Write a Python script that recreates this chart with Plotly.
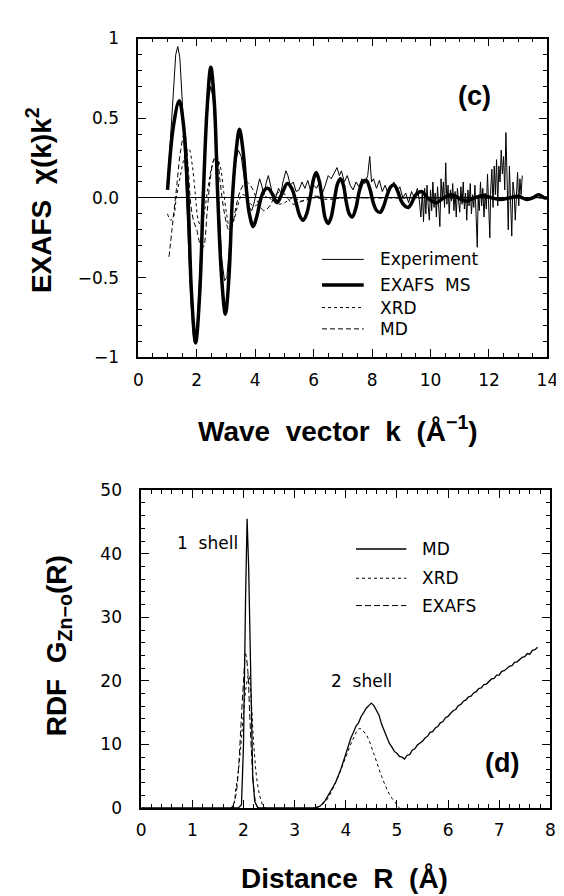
import plotly.graph_objects as go

# ---------------- Panel (c): EXAFS chi(k)k^2 ----------------
k_exp = [1.0, 1.1, 1.2, 1.28, 1.35, 1.42, 1.5, 1.6, 1.7, 1.8, 1.88, 1.95, 2.02, 2.1, 2.2, 2.3, 2.4, 2.48,
         2.56, 2.65, 2.75, 2.85, 2.95, 3.03, 3.12, 3.22, 3.32, 3.42, 3.52, 3.62, 3.72, 3.8, 3.88, 3.95,
         4.05, 4.15, 4.22, 4.3, 4.38, 4.45, 4.55, 4.62, 4.7, 4.8, 4.88, 4.95, 5.05, 5.12, 5.2, 5.3, 5.4,
         5.5, 5.6, 5.7, 5.8, 5.9, 6.0, 6.1, 6.2, 6.3, 6.4, 6.5, 6.6, 6.7, 6.8, 6.88, 6.95, 7.05, 7.15,
         7.25, 7.35, 7.45, 7.55, 7.65, 7.75, 7.85, 7.92, 7.98, 8.05, 8.15, 8.25, 8.35, 8.45, 8.55, 8.65,
         8.75, 8.85, 8.95, 9.05, 9.15, 9.25, 9.35, 9.45, 9.55, 9.62,
         9.67, 9.72, 9.76, 9.8, 9.84, 9.88, 9.92, 9.96, 10.0, 10.04, 10.08, 10.12, 10.16, 10.2, 10.24,
         10.28, 10.32, 10.36, 10.4, 10.44, 10.48, 10.52, 10.56, 10.6, 10.64, 10.68, 10.72, 10.76, 10.8,
         10.84, 10.88, 10.92, 10.96, 11.0, 11.04, 11.08, 11.12, 11.16, 11.2, 11.24, 11.28, 11.32, 11.36,
         11.4, 11.44, 11.48, 11.52, 11.56, 11.6, 11.63, 11.67, 11.71, 11.75, 11.79, 11.83, 11.87, 11.91,
         11.95, 11.99, 12.03, 12.06, 12.1, 12.14, 12.18, 12.22, 12.26, 12.3, 12.34, 12.38, 12.42, 12.46,
         12.5, 12.54, 12.58, 12.62, 12.66, 12.7, 12.74, 12.78, 12.82, 12.86, 12.9, 12.94, 12.98, 13.02,
         13.06, 13.1, 13.14]
chi_exp = [0.08, 0.4, 0.72, 0.9, 0.95, 0.88, 0.62, 0.2, -0.25, -0.65, -0.86, -0.9, -0.8, -0.5, -0.08,
           0.35, 0.62, 0.7, 0.62, 0.35, -0.05, -0.38, -0.52, -0.5, -0.3, 0.0, 0.22, 0.3, 0.26, 0.12, 0.0,
           -0.06, -0.08, -0.04, 0.05, 0.12, 0.08, 0.02, 0.1, 0.14, 0.06, -0.02, 0.0, 0.06, 0.03, 0.1, 0.17,
           0.14, 0.08, 0.1, 0.04, 0.05, 0.1, 0.06, 0.11, 0.04, 0.08, 0.06, 0.1, 0.03, 0.08, 0.14, 0.12,
           0.16, 0.19, 0.14, 0.17, 0.1, 0.14, 0.08, 0.05, 0.1, 0.07, 0.12, 0.09, 0.14, 0.26, 0.1, 0.12,
           0.06, 0.11, 0.04, 0.08, 0.02, 0.07, 0.1, 0.04, 0.07, 0.0, 0.03, -0.03, 0.04, 0.0, 0.06, -0.02,
           -0.12, 0.04, -0.15, 0.06, -0.1, 0.08, -0.05, -0.14, 0.05, -0.08, 0.1, -0.06, 0.03, -0.12, 0.07,
           -0.03, -0.18, 0.12, 0.0, 0.1, -0.06, 0.22, -0.04, 0.08, -0.1, 0.05, -0.02, 0.09, -0.08, 0.04,
           -0.12, 0.06, 0.0, -0.09, 0.07, -0.04, 0.1, -0.07, 0.03, -0.14, 0.05, -0.05, 0.09, -0.1, 0.02,
           -0.06, 0.08, -0.2, -0.31, 0.0, -0.08, 0.1, -0.05, 0.06, -0.12, 0.03, -0.07, 0.15, -0.1, -0.25,
           0.05, 0.18, -0.06, 0.2, 0.02, 0.24, -0.05, 0.2, 0.1, 0.3, 0.15, 0.26, 0.05, 0.41, 0.12, -0.2,
           0.2, -0.05, -0.24, 0.1, 0.04, -0.14, 0.08, 0.16, -0.05, 0.12, 0.02, 0.14]

k_ms = [1.0, 1.2, 1.4, 1.55, 1.7, 1.82, 1.96, 2.1, 2.22, 2.35, 2.48, 2.6, 2.72, 2.85, 2.98, 3.1, 3.22,
        3.35, 3.46, 3.58, 3.7, 3.8, 3.93, 4.05, 4.2, 4.32, 4.44, 4.6, 4.75, 4.9, 5.1, 5.25, 5.4, 5.52,
        5.64, 5.76, 5.88, 6.0, 6.09, 6.2, 6.3, 6.4, 6.5, 6.6, 6.72, 6.82, 6.92, 7.02, 7.12, 7.22, 7.32,
        7.45, 7.56, 7.68, 7.8, 7.92, 8.04, 8.16, 8.28, 8.4, 8.52, 8.64, 8.76, 8.88, 9.0, 9.12, 9.24, 9.36,
        9.5, 9.7, 9.9, 10.2, 10.45, 10.7, 10.95, 11.2, 11.5, 11.8, 12.1, 12.4, 12.7, 13.0, 13.3, 13.5,
        13.7, 13.9, 14.0]
chi_ms = [0.05, 0.45, 0.61, 0.45, 0.0, -0.6, -0.91, -0.6, 0.0, 0.55, 0.82, 0.6, 0.0, -0.5, -0.73, -0.5,
          0.0, 0.3, 0.43, 0.3, 0.05, -0.1, -0.18, -0.12, 0.0, 0.05, 0.06, 0.02, -0.03, 0.02, 0.09, 0.06,
          -0.03, -0.11, -0.14, -0.1, 0.0, 0.12, 0.16, 0.1, -0.02, -0.13, -0.16, -0.12, 0.0, 0.09, 0.12,
          0.08, -0.03, -0.1, -0.12, -0.06, 0.04, 0.1, 0.11, 0.06, -0.03, -0.08, -0.09, -0.05, 0.02, 0.07,
          0.08, 0.04, -0.02, -0.05, -0.06, -0.03, 0.02, 0.04, 0.0, -0.03, 0.0, 0.02, 0.0, -0.02, 0.0,
          0.015, 0.0, -0.01, 0.0, 0.01, -0.01, 0.0, 0.02, 0.0, 0.0]

k_xrd = [1.0, 1.1, 1.2, 1.3, 1.45, 1.6, 1.73, 1.85, 1.95, 2.05, 2.15, 2.25, 2.38, 2.52, 2.66, 2.8, 2.92,
         3.02, 3.12, 3.25, 3.4, 3.55, 3.7, 3.85, 4.0, 4.2, 4.4, 4.6, 4.8, 5.0, 5.3, 5.6, 6.0, 6.5, 7.0,
         8.0, 9.0, 10.0, 12.0, 14.0]
chi_xrd = [-0.1, -0.14, -0.12, 0.0, 0.15, 0.27, 0.31, 0.2, 0.02, -0.14, -0.18, -0.1, 0.06, 0.2, 0.26,
           0.2, 0.04, -0.1, -0.18, -0.15, -0.05, 0.02, 0.01, -0.04, -0.05, -0.02, 0.01, -0.02, -0.04,
           -0.03, 0.0, -0.02, 0.0, -0.01, 0.0, 0.0, 0.0, 0.0, 0.0, 0.0]

k_md = [1.05, 1.15, 1.3, 1.45, 1.58, 1.7, 1.8, 1.9, 2.0, 2.1, 2.22, 2.35, 2.45, 2.58, 2.68, 2.8, 2.95,
        3.1, 3.2, 3.35, 3.5, 3.7, 3.9, 4.1, 4.3, 4.5, 4.7, 4.9, 5.1, 5.3, 5.6, 6.0, 6.5, 7.0, 8.0, 9.0,
        10.0, 12.0, 14.0]
chi_md = [-0.37, -0.2, 0.05, 0.3, 0.41, 0.2, -0.05, -0.15, -0.2, -0.28, -0.31, -0.1, 0.1, 0.24, 0.27,
          0.1, -0.1, -0.2, -0.18, -0.05, 0.05, 0.1, 0.06, -0.03, -0.08, -0.05, 0.02, 0.04, 0.0, -0.04,
          -0.02, 0.01, 0.0, 0.0, 0.0, 0.0, 0.0, 0.0, 0.0]

# ---------------- Panel (d): RDF G_Zn-O(R) ----------------
r_md = [0.0, 1.9, 1.96, 2.0, 2.04, 2.07, 2.1, 2.14, 2.18, 2.22, 2.28, 3.4, 3.5, 3.6, 3.7, 3.8, 3.9,
        4.0, 4.05, 4.1, 4.15, 4.2, 4.25, 4.3, 4.35, 4.4, 4.45, 4.5, 4.55, 4.6, 4.65, 4.7, 4.75, 4.8,
        4.85, 4.9, 4.95, 5.0, 5.05, 5.1, 5.15, 5.2, 5.25, 5.3, 5.35, 5.4, 5.45, 5.5, 5.55, 5.6, 5.65,
        5.7, 5.75, 5.8, 5.85, 5.9, 5.95, 6.0, 6.05, 6.1, 6.15, 6.2, 6.25, 6.3, 6.35, 6.4, 6.45, 6.5,
        6.55, 6.6, 6.65, 6.7, 6.75, 6.8, 6.85, 6.9, 6.95, 7.0, 7.05, 7.1, 7.15, 7.2, 7.25, 7.3, 7.35,
        7.4, 7.45, 7.5, 7.55, 7.6, 7.65, 7.7, 7.75]
g_md = [0.0, 0.0, 0.5, 10.0, 33.0, 45.5, 38.0, 18.0, 5.0, 1.0, 0.0, 0.0, 0.3, 1.2, 2.5, 4.0, 6.0,
        8.6, 9.7, 11.0, 11.9, 12.9, 13.4, 14.4, 15.0, 15.7, 16.1, 16.5, 16.1, 15.4, 14.6, 13.2, 12.1,
        11.1, 10.2, 9.6, 8.9, 8.6, 8.1, 8.0, 7.7, 8.3, 8.4, 9.1, 9.3, 9.9, 10.2, 10.5, 11.0, 11.3,
        11.9, 12.0, 12.6, 12.8, 13.4, 13.6, 14.2, 14.4, 14.9, 15.3, 15.5, 16.1, 16.3, 16.8, 17.0,
        17.5, 17.6, 18.1, 18.3, 18.8, 18.9, 19.4, 19.5, 19.9, 20.3, 20.4, 20.9, 20.9, 21.5, 21.6,
        22.0, 22.3, 22.4, 22.9, 23.0, 23.4, 23.7, 23.8, 24.3, 24.2, 24.8, 24.9, 25.3]

r_xrd = [0.0, 1.75, 1.85, 1.95, 2.0, 2.05, 2.1, 2.15, 2.2, 2.27, 2.35, 2.42, 3.4, 3.6, 3.8, 4.0, 4.15,
         4.27, 4.4, 4.55, 4.7, 4.85, 5.0, 5.05]
g_xrd = [0.0, 0.0, 3.0, 10.0, 15.0, 19.0, 21.0, 17.0, 10.0, 4.0, 1.0, 0.0, 0.0, 1.0, 4.0, 8.0, 11.0,
         12.5, 11.5, 8.5, 5.0, 2.2, 0.5, 0.0]

r_exafs = [1.78, 1.85, 1.9, 1.95, 2.0, 2.04, 2.08, 2.12, 2.16, 2.2, 2.25, 2.3]
g_exafs = [0.0, 2.0, 6.0, 13.0, 20.0, 24.3, 22.0, 15.0, 8.0, 3.0, 0.5, 0.0]

# ---------------- figure ----------------
W, H = 564, 896
TICKFONT = "DejaVu Sans, Liberation Sans, sans-serif"
TFONT = "Liberation Sans, Arial, sans-serif"

def px_x(p):
    return p / W

def px_y(p):
    return 1 - p / H

fig = go.Figure()
fig.add_trace(go.Scatter(x=k_exp, y=chi_exp, mode="lines", name="Experiment",
                         line=dict(color="black", width=1), xaxis="x", yaxis="y"))
fig.add_trace(go.Scatter(x=k_ms, y=chi_ms, mode="lines", name="EXAFS MS", line_shape="spline",
                         line=dict(color="black", width=3.5), xaxis="x", yaxis="y"))
fig.add_trace(go.Scatter(x=k_xrd, y=chi_xrd, mode="lines", name="XRD", line_shape="spline",
                         line=dict(color="black", width=1, dash="dot"), xaxis="x", yaxis="y"))
fig.add_trace(go.Scatter(x=k_md, y=chi_md, mode="lines", name="MD", line_shape="spline",
                         line=dict(color="black", width=1, dash="5px,3px"), xaxis="x", yaxis="y"))

fig.add_trace(go.Scatter(x=r_md, y=g_md, mode="lines", name="MD",
                         line=dict(color="black", width=1.3), xaxis="x2", yaxis="y2"))
fig.add_trace(go.Scatter(x=r_xrd, y=g_xrd, mode="lines", name="XRD", line_shape="spline",
                         line=dict(color="black", width=1, dash="dot"), xaxis="x2", yaxis="y2"))
fig.add_trace(go.Scatter(x=r_exafs, y=g_exafs, mode="lines", name="EXAFS", line_shape="spline",
                         line=dict(color="black", width=1, dash="6px,3px"), xaxis="x2", yaxis="y2"))

axis_common = dict(showline=True, linecolor="black", linewidth=1.8, mirror="allticks",
                   ticks="inside", ticklen=8, tickwidth=1, tickcolor="black", showgrid=False,
                   zeroline=False, tickfont=dict(family=TICKFONT, size=17, color="black"))

fig.update_layout(
    width=W, height=H, margin=dict(l=0, r=0, t=0, b=0),
    paper_bgcolor="white", plot_bgcolor="white", showlegend=False,
    font=dict(family=TICKFONT, color="black"),
    xaxis=dict(domain=[px_x(129), px_x(550)], range=[0, 14], tickvals=[0, 2, 4, 6, 8, 10, 12, 14],
               minor=dict(ticks="inside", dtick=0.5, ticklen=4, tickcolor="black"),
               ticklabelstandoff=6, anchor="y", **axis_common),
    yaxis=dict(domain=[px_y(347), px_y(21)], range=[-1, 1], tickvals=[-1, -0.5, 0, 0.5, 1],
               ticktext=["\u22121", "\u22120.5", "0.0", "0.5", "1"],
               minor=dict(ticks="inside", dtick=0.1, ticklen=4, tickcolor="black"),
               ticklabelstandoff=14, anchor="x",
               **{**axis_common, "zeroline": True}, zerolinecolor="black", zerolinewidth=1),
    xaxis2=dict(domain=[px_x(132), px_x(553)], range=[0, 8], tickvals=list(range(0, 9)),
                minor=dict(ticks="inside", dtick=0.2, ticklen=4, tickcolor="black"),
                ticklabelstandoff=6, anchor="y2", **axis_common),
    yaxis2=dict(domain=[px_y(808), px_y(483)], range=[0, 50], tickvals=[0, 10, 20, 30, 40, 50],
                minor=dict(ticks="inside", dtick=2, ticklen=4, tickcolor="black"),
                ticklabelstandoff=14, anchor="x2", **axis_common),
)

title_font = dict(family=TFONT, size=28, color="black", weight="bold")
label_font = dict(family=TICKFONT, size=17, color="black")
panel_font = dict(family=TFONT, size=27, color="black", weight="bold")
ann = [
    dict(text="EXAFS\u00a0\u00a0\u03c7(k)k<sup>2</sup>", x=px_x(27), y=px_y(186), xref="paper", yref="paper",
         textangle=-90, showarrow=False, font=title_font, xanchor="center", yanchor="middle"),
    dict(text="Wave\u00a0\u00a0vector\u00a0\u00a0k\u00a0\u00a0(\u00c5<sup>\u22121</sup>)", x=px_x(335), y=px_y(420),
         xref="paper", yref="paper", showarrow=False, font=title_font, xanchor="center", yanchor="middle"),
    dict(text="RDF\u00a0\u00a0G<sub>Zn\u2212o</sub>(R)", x=px_x(47), y=px_y(642), xref="paper", yref="paper",
         textangle=-90, showarrow=False, font=title_font, xanchor="center", yanchor="middle"),
    dict(text="Distance\u00a0\u00a0R\u00a0\u00a0(\u00c5)", x=px_x(341), y=px_y(880), xref="paper", yref="paper",
         showarrow=False, font=title_font, xanchor="center", yanchor="middle"),
    dict(text="(c)", x=11.5, y=0.64, xref="x", yref="y", showarrow=False, font=panel_font),
    dict(text="(d)", x=7.05, y=7.1, xref="x2", yref="y2", showarrow=False, font=panel_font),
    dict(text="1\u00a0\u00a0shell", x=1.3, y=41.7, xref="x2", yref="y2", showarrow=False, font=label_font),
    dict(text="2\u00a0\u00a0shell", x=4.3, y=20.0, xref="x2", yref="y2", showarrow=False, font=label_font),
]

# manual legends (sample line + label), in axis-domain coordinates
leg_top = [("Experiment", 1, "solid", 0.307), ("EXAFS\u00a0\u00a0MS", 3.5, "solid", 0.227),
           ("XRD", 1, "dot", 0.156), ("MD", 1, "5px,3px", 0.089)]
shapes = []
for name, w, dash, yy in leg_top:
    shapes.append(dict(type="line", xref="x domain", yref="y domain", x0=0.449, x1=0.551, y0=yy, y1=yy,
                       line=dict(color="black", width=w, dash=dash)))
    ann.append(dict(text=name, xref="x domain", yref="y domain", x=0.587, y=yy, xanchor="left",
                    yanchor="middle", showarrow=False, font=label_font))

leg_bot = [("MD", 1.3, "solid", 0.815), ("XRD", 1, "dot", 0.723), ("EXAFS", 1, "6px,3px", 0.637)]
for name, w, dash, yy in leg_bot:
    shapes.append(dict(type="line", xref="x2 domain", yref="y2 domain", x0=0.525, x1=0.648, y0=yy, y1=yy,
                       line=dict(color="black", width=w, dash=dash)))
    ann.append(dict(text=name, xref="x2 domain", yref="y2 domain", x=0.682, y=yy, xanchor="left",
                    yanchor="middle", showarrow=False, font=label_font))

fig.update_layout(annotations=ann, shapes=shapes)
fig.write_html("out.html")
